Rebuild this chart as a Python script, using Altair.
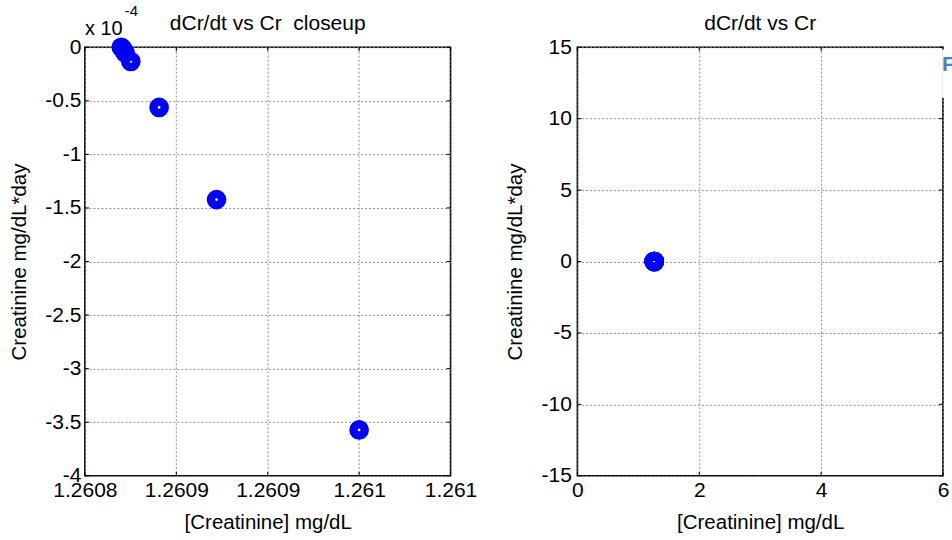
import altair as alt
import pandas as pd

FONT = "Liberation Sans"
FS = 21          # tick labels
FS_TITLE = 20.5  # axis titles
FS_HEAD = 21     # panel headings
BLUE = "#0000ff"

# Creatinine trajectory: concentration (mg/dL) and its rate of change
# (in units of 1e-4 mg/dL*day), listed from the settled state back to the
# starting value so that the later points are drawn on top.
creatinine = [1.2608699, 1.2608708, 1.2608721, 1.2608751, 1.2608906, 1.2609220, 1.2610000]
dcrdt_e4 = [0.0, -0.018, -0.055, -0.133, -0.562, -1.422, -3.572]

# axis ticks and their printed labels
closeup_x_ticks = [1.26085, 1.26090, 1.26095, 1.26100, 1.26105]
closeup_x_labels = ["1.2608", "1.2609", "1.2609", "1.261", "1.261"]
closeup_y_ticks_e4 = [0, -0.5, -1, -1.5, -2, -2.5, -3, -3.5, -4]
full_x_ticks = [0, 2, 4, 6]
full_y_ticks = [15, 10, 5, 0, -5, -10, -15]

panel_titles = ["dCr/dt vs Cr  closeup", "dCr/dt vs Cr"]
x_title = "[Creatinine] mg/dL"
y_title = "Creatinine mg/dL*day"
exponent_text = ["x 10", "-4"]
corner_text = "F"

W, H = 366, 429

df = pd.DataFrame({"cr": creatinine, "rate": [v * 1e-4 for v in dcrdt_e4]})
one = pd.DataFrame({"k": [0]})


def make_axis(values, label_expr, title, label_pad, title_pad):
    return alt.Axis(
        values=values, labelExpr=label_expr, title=title,
        grid=True, gridColor="#8c8c8c", gridDash=[2, 2], gridWidth=1,
        domain=False, ticks=False,
        labelFont=FONT, labelFontSize=FS, labelColor="#000",
        labelPadding=label_pad, labelFlush=False, labelOverlap=False,
        titleFont=FONT, titleFontSize=FS_TITLE, titleFontWeight="normal",
        titleColor="#000", titlePadding=title_pad,
    )


def inner_ticks(xs, ys, x_scale, y_scale, x_axis, y_axis):
    """Short MATLAB-style tick marks pointing into the box on all four sides."""
    xdf = pd.DataFrame({"xt": xs})
    ydf = pd.DataFrame({"yt": ys})
    rule = dict(color="black", strokeWidth=1)
    xe = alt.X("xt:Q", scale=x_scale, axis=x_axis)
    ye = alt.Y("yt:Q", scale=y_scale, axis=y_axis)
    return [
        alt.Chart(xdf).mark_rule(**rule).encode(x=xe, y=alt.value(H), y2=alt.value(H - 4)),
        alt.Chart(xdf).mark_rule(**rule).encode(x=xe, y=alt.value(0), y2=alt.value(4)),
        alt.Chart(ydf).mark_rule(**rule).encode(y=ye, x=alt.value(0), x2=alt.value(4)),
        alt.Chart(ydf).mark_rule(**rule).encode(y=ye, x=alt.value(W), x2=alt.value(W - 4)),
    ]


def points(x_scale, y_scale, x_axis, y_axis):
    return alt.Chart(df).mark_point(
        shape="circle", filled=False, color=BLUE, strokeWidth=8.5, size=125, opacity=1
    ).encode(
        x=alt.X("cr:Q", scale=x_scale, axis=x_axis),
        y=alt.Y("rate:Q", scale=y_scale, axis=y_axis),
    )


def title_mark(text, xmid, ytop, x_scale, y_scale):
    # keep the double space of the heading visible
    shown = text.replace("  ", " \u00a0")
    return alt.Chart(one).mark_text(
        text=shown, font=FONT, fontSize=FS_HEAD, align="center", baseline="alphabetic", dy=-17.5
    ).encode(x=alt.XDatum(xmid, scale=x_scale), y=alt.YDatum(ytop, scale=y_scale))


# ---- left panel: close-up around the settled value ----
xs_l = alt.Scale(domain=[closeup_x_ticks[0], closeup_x_ticks[-1]], zero=False, nice=False)
ys_l = alt.Scale(domain=[-4e-4, 0], zero=False, nice=False)
step = closeup_x_ticks[1] - closeup_x_ticks[0]
labels_js = "[" + ",".join(f"'{s}'" for s in closeup_x_labels) + "]"
x_expr_l = f"{labels_js}[round((datum.value - {closeup_x_ticks[0]}) / {step})]"
y_vals_l = [v * 1e-4 for v in closeup_y_ticks_e4]

xa_l = make_axis(closeup_x_ticks, x_expr_l, x_title, 4, 12)
ya_l = make_axis(y_vals_l, "'' + round(datum.value * 1e5) / 10", y_title, 4, 15)

exp_base = alt.Chart(one).mark_text(
    text=exponent_text[0], font=FONT, fontSize=20, align="left", baseline="alphabetic", dx=0, dy=-12
).encode(x=alt.XDatum(closeup_x_ticks[0], scale=xs_l), y=alt.YDatum(0, scale=ys_l))
exp_power = alt.Chart(one).mark_text(
    text=exponent_text[1], font=FONT, fontSize=15, align="left", baseline="alphabetic", dx=40, dy=-31
).encode(x=alt.XDatum(closeup_x_ticks[0], scale=xs_l), y=alt.YDatum(0, scale=ys_l))

left = alt.layer(
    points(xs_l, ys_l, xa_l, ya_l),
    *inner_ticks(closeup_x_ticks, y_vals_l, xs_l, ys_l, xa_l, ya_l),
    exp_base, exp_power,
    title_mark(panel_titles[0], (closeup_x_ticks[0] + closeup_x_ticks[-1]) / 2, 0, xs_l, ys_l),
).properties(width=W, height=H)

# ---- right panel: full range ----
xs_r = alt.Scale(domain=[0, 6], zero=False, nice=False)
ys_r = alt.Scale(domain=[-15, 15], zero=False, nice=False)
xa_r = make_axis(full_x_ticks, "'' + datum.value", x_title, 4, 12)
ya_r = make_axis(full_y_ticks, "'' + datum.value", y_title, 6, 16)

cover = alt.Chart(one).mark_rect(color="white").encode(
    x=alt.XDatum(5.985, scale=xs_r), x2=alt.X2Datum(6.12),
    y=alt.YDatum(14.85, scale=ys_r), y2=alt.Y2Datum(11.45),
)
corner = alt.Chart(one).mark_text(
    text=corner_text, font=FONT, fontSize=21, fontWeight="bold", color="#4f81bd",
    align="left", baseline="middle", dx=0,
).encode(x=alt.XDatum(5.985, scale=xs_r), y=alt.YDatum(13.79, scale=ys_r))

right = alt.layer(
    points(xs_r, ys_r, xa_r, ya_r),
    *inner_ticks(full_x_ticks, full_y_ticks, xs_r, ys_r, xa_r, ya_r),
    cover, corner,
    title_mark(panel_titles[1], 3, 15, xs_r, ys_r),
).properties(width=W, height=H)

chart = alt.hconcat(left, right, spacing=127, bounds="flush").properties(
    padding={"left": 9, "top": 3, "right": -4, "bottom": 0}
).configure_view(stroke="black", strokeWidth=1.6)

chart.save("out.html", embed_options={"renderer": "svg", "actions": False})
